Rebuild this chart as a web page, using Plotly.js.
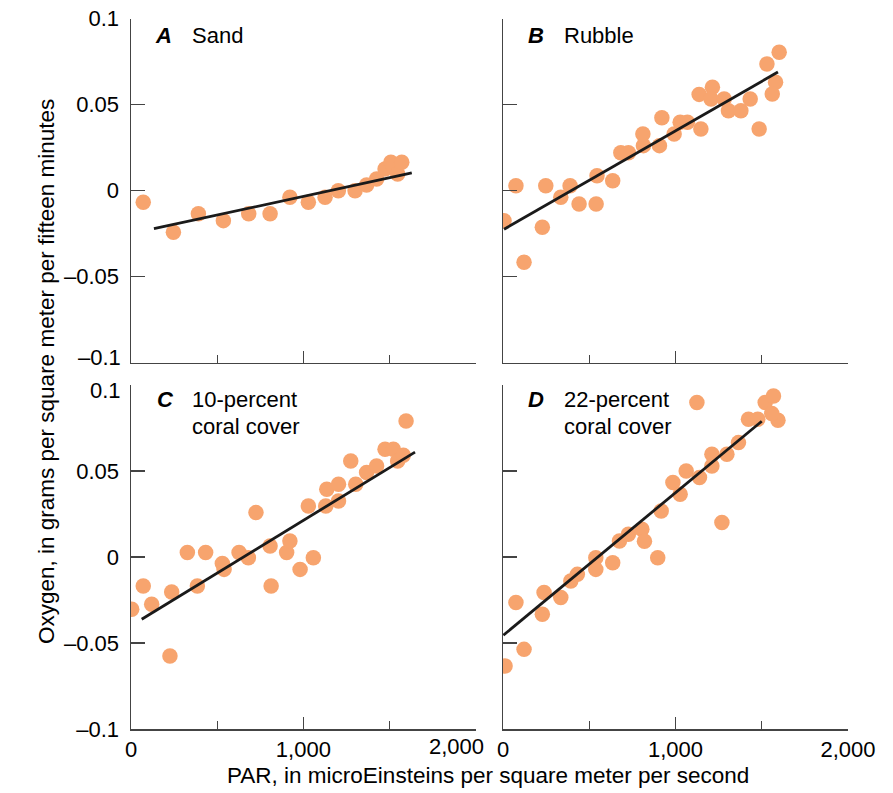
<!DOCTYPE html>
<html>
<head>
<meta charset="utf-8">
<script src="https://cdn.plot.ly/plotly-3.0.1.min.js"></script>
<style>html,body{margin:0;padding:0;background:#fff}</style>
</head>
<body>
<div id="chart" style="width:893px;height:793px"></div>
<script>
// Panel A – Sand
const sandPAR = [71, 246, 391, 536, 683, 807, 922, 1029, 1126, 1203, 1300, 1367, 1425, 1474, 1508, 1522, 1547, 1571];
const sandO2  = [-0.0067, -0.0242, -0.0134, -0.0174, -0.0134, -0.0134, -0.0038, -0.0067, -0.0038, 0.0, 0.0, 0.0033, 0.0068, 0.0126, 0.0165, 0.014, 0.0097, 0.0165];
const sandFitPAR = [133, 1629];
const sandFitO2  = [-0.0221, 0.0103];

// Panel B – Rubble
const rubblePAR = [6, 75, 122, 228, 248, 335, 389, 441, 540, 545, 636, 683, 727, 814, 811, 907, 921, 992, 1027, 1069, 1147, 1137, 1214, 1206, 1282, 1307, 1379, 1433, 1485, 1530, 1601, 1580, 1561];
const rubbleO2  = [-0.0174, 0.0029, -0.0416, -0.0213, 0.0029, -0.0038, 0.0029, -0.0077, -0.0077, 0.0087, 0.0058, 0.0221, 0.0221, 0.0262, 0.033, 0.0262, 0.0424, 0.033, 0.0398, 0.0398, 0.0359, 0.056, 0.0601, 0.0533, 0.0533, 0.0465, 0.0465, 0.0533, 0.0359, 0.0737, 0.0805, 0.063, 0.0562];
const rubbleFitPAR = [6, 1594];
const rubbleFitO2  = [-0.0224, 0.069];

// Panel C – 10-percent coral cover
const coral10PAR = [4, 71, 120, 226, 236, 327, 385, 433, 530, 540, 627, 681, 725, 807, 813, 903, 922, 981, 1058, 1029, 1130, 1136, 1204, 1204, 1275, 1304, 1367, 1425, 1474, 1522, 1547, 1580, 1596];
const coral10O2  = [-0.0304, -0.0169, -0.0275, -0.0576, -0.0203, 0.0026, -0.0169, 0.0026, -0.0038, -0.0072, 0.0026, -0.0004, 0.0258, 0.0064, -0.0169, 0.0026, 0.0093, -0.0072, -0.0004, 0.0297, 0.0297, 0.0394, 0.0326, 0.0423, 0.0558, 0.0423, 0.0491, 0.0529, 0.0626, 0.0626, 0.0558, 0.0591, 0.0791];
const coral10FitPAR = [62, 1648];
const coral10FitO2  = [-0.0362, 0.061];

// Panel D – 22-percent coral cover
const coral22PAR = [12, 75, 122, 228, 238, 335, 393, 431, 538, 538, 636, 675, 727, 805, 820, 897, 917, 985, 1027, 1062, 1139, 1124, 1211, 1211, 1269, 1298, 1365, 1423, 1477, 1520, 1568, 1594, 1558];
const coral22O2  = [-0.0634, -0.0265, -0.0537, -0.0333, -0.0207, -0.0236, -0.014, -0.0101, -0.0004, -0.0072, -0.0033, 0.0093, 0.0132, 0.0161, 0.0091, -0.0004, 0.0267, 0.0433, 0.0365, 0.05, 0.0462, 0.0898, 0.0597, 0.0529, 0.02, 0.0597, 0.0665, 0.0801, 0.0801, 0.0898, 0.0936, 0.0795, 0.0834];
const coral22FitPAR = [2, 1500];
const coral22FitO2  = [-0.0455, 0.0789];

// Tick labels
const xTickVals = [0, 1000, 2000];
const xTickText = ["0", "1,000", "2,000"];
const xTickTextC = ["0", "1,000", ""];   // panel C's "2,000" is set a little to the left (annotation)
const yTickVals = [-0.1, -0.05, 0, 0.05, 0.1];
const yTickText = ["\u20130.1", "\u20130.05", "0", "0.05", "0.1"];
const yTickTextA = ["", "\u20130.05", "0", "0.05", "0.1"];   // "–0.1" nudged up (annotation)
const yTickTextC = ["\u20130.1", "\u20130.05", "0", "0.05", ""]; // "0.1" nudged down (annotation)

const panelLetters = ["A", "B", "C", "D"];
const panelLabels = [["Sand"], ["Rubble"], ["10-percent", "coral cover"], ["22-percent", "coral cover"]];

const FONT = "Liberation Sans, Arial, Helvetica, sans-serif";
const MARKER_COLOR = "#F7A46E";
const W = 893, H = 793;

const datasets = [
  [sandPAR, sandO2, sandFitPAR, sandFitO2],
  [rubblePAR, rubbleO2, rubbleFitPAR, rubbleFitO2],
  [coral10PAR, coral10O2, coral10FitPAR, coral10FitO2],
  [coral22PAR, coral22O2, coral22FitPAR, coral22FitO2]
];

const traces = [];
datasets.forEach((d, i) => {
  const xa = i === 0 ? "x" : "x" + (i + 1);
  const ya = i === 0 ? "y" : "y" + (i + 1);
  traces.push({
    x: d[0], y: d[1], xaxis: xa, yaxis: ya, type: "scatter", mode: "markers",
    marker: {color: MARKER_COLOR, size: 15.5, line: {width: 0}},
    hoverinfo: "x+y", showlegend: false
  });
  traces.push({
    x: d[2], y: d[3], xaxis: xa, yaxis: ya, type: "scatter", mode: "lines",
    line: {color: "#1a1a1a", width: 2.8},
    hoverinfo: "skip", showlegend: false
  });
});

const leftDom = [131 / W, 475.7 / W];
const rightDom = [503 / W, 848 / W];
const topDom = [1 - 362.7 / H, 1 - 18.7 / H];
const botDom = [1 - 729 / H, 1 - 385 / H];

function xAxis(dom, anchor, showLabels, ticktext) {
  return {
    domain: dom, anchor: anchor, range: [0, 2000], autorange: false,
    tickmode: "array", tickvals: xTickVals, ticktext: ticktext || xTickText,
    ticks: "inside", ticklen: 12, tickwidth: 1.3, tickcolor: "#444",
    minor: {tickmode: "array", tickvals: [500, 1500], ticks: "inside", ticklen: 8, tickwidth: 1.3, tickcolor: "#444"},
    showticklabels: showLabels, ticklabelstandoff: 0,
    tickfont: {family: FONT, size: 22, color: "#000"},
    showline: true, linecolor: "#444", linewidth: 1.5, mirror: false,
    showgrid: false, zeroline: false, automargin: false, fixedrange: true
  };
}
function yAxis(dom, anchor, showLabels, ticktext) {
  return {
    domain: dom, anchor: anchor, range: [-0.1, 0.1], autorange: false,
    tickmode: "array", tickvals: yTickVals, ticktext: ticktext || yTickText,
    ticks: "inside", ticklen: 14, tickwidth: 1.3, tickcolor: "#444",
    showticklabels: showLabels, ticklabelstandoff: 6,
    tickfont: {family: FONT, size: 22, color: "#000"},
    showline: true, linecolor: "#444", linewidth: 1.5, mirror: false,
    showgrid: false, zeroline: false, automargin: false, fixedrange: true
  };
}

const annotations = [];
const letterPos = [[153, 36], [526, 36], [155, 399], [526, 399]];
const labelPos = [[190, 36], [562, 36], [190, 399], [562, 399]];
panelLetters.forEach((L, i) => {
  annotations.push({
    xref: "paper", yref: "paper", x: letterPos[i][0] / W, y: 1 - letterPos[i][1] / H,
    xanchor: "left", yanchor: "middle", showarrow: false,
    text: "<b><i>" + L + "</i></b>", font: {family: FONT, size: 22, color: "#000"}
  });
  panelLabels[i].forEach((t, j) => {
    annotations.push({
      xref: "paper", yref: "paper", x: labelPos[i][0] / W, y: 1 - (labelPos[i][1] + j * 27.5) / H,
      xanchor: "left", yanchor: "middle", showarrow: false,
      text: t, font: {family: FONT, size: 22, color: "#000"}
    });
  });
});
function tickNote(text, px, py, xanchor) {
  annotations.push({
    xref: "paper", yref: "paper", x: px / W, y: 1 - py / H, xanchor: xanchor, yanchor: "middle",
    showarrow: false, text: text, font: {family: FONT, size: 22, color: "#000"}
  });
}
// labels nudged apart where neighbouring panels meet
tickNote(xTickText[2], 486, 746, "right");
tickNote(yTickText[0], 123, 357, "right");
tickNote(yTickText[4], 123, 390, "right");

annotations.push({
  xref: "paper", yref: "paper", x: 488 / W, y: 1 - 775 / H, xanchor: "center", yanchor: "middle",
  showarrow: false, text: "PAR, in microEinsteins per square meter per second",
  font: {family: FONT, size: 22.5, color: "#000"}
});
annotations.push({
  xref: "paper", yref: "paper", x: 46 / W, y: 1 - 372 / H, xanchor: "center", yanchor: "middle",
  showarrow: false, textangle: -90, text: "Oxygen, in grams per square meter per fifteen minutes",
  font: {family: FONT, size: 22.5, color: "#000"}
});

const layout = {
  width: W, height: H,
  margin: {l: 0, r: 0, t: 0, b: 0},
  paper_bgcolor: "#fff", plot_bgcolor: "#fff",
  showlegend: false,
  xaxis: xAxis(leftDom, "y", false),
  yaxis: yAxis(topDom, "x", true, yTickTextA),
  xaxis2: xAxis(rightDom, "y2", false),
  yaxis2: yAxis(topDom, "x2", false),
  xaxis3: xAxis(leftDom, "y3", true, xTickTextC),
  yaxis3: yAxis(botDom, "x3", true, yTickTextC),
  xaxis4: xAxis(rightDom, "y4", true),
  yaxis4: yAxis(botDom, "x4", false),
  annotations: annotations
};

Plotly.newPlot("chart", traces, layout, {displayModeBar: false, staticPlot: true});
</script>
</body>
</html>
